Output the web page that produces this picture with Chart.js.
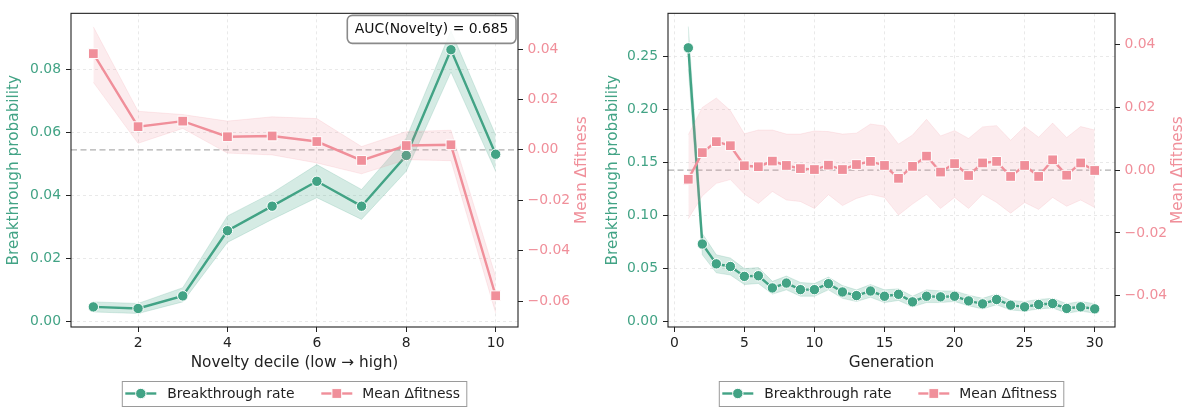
<!DOCTYPE html>
<html>
<head>
<meta charset="utf-8">
<script src="https://cdn.jsdelivr.net/npm/chart.js@4.4.0/dist/chart.umd.min.js"></script>
<style>
  html, body { margin: 0; padding: 0; background: #fff; }
  #wrap { position: relative; width: 1193px; height: 407px; overflow: hidden; }
  .panel { position: absolute; top: 0; }
  #left { left: 0; }
  #right { left: 596px; }
</style>
</head>
<body>
<div id="wrap">
  <canvas class="panel" id="left" width="596" height="407"></canvas>
  <canvas class="panel" id="right" width="597" height="407"></canvas>
</div>
<script>
// --- Painel esquerdo: decis de novidade ---
const deciles = [1, 2, 3, 4, 5, 6, 7, 8, 9, 10];
const decileRate   = [0.0047, 0.0042, 0.0082, 0.0289, 0.0367, 0.0446, 0.0367, 0.0528, 0.0864, 0.0532];
const decileRateLo = [0.0031, 0.0026, 0.0063, 0.0252, 0.0325, 0.0394, 0.0325, 0.0478, 0.0793, 0.0478];
const decileRateHi = [0.0063, 0.0058, 0.0108, 0.0336, 0.0409, 0.0499, 0.0420, 0.0583, 0.0924, 0.0593];
const decileFit    = [0.0382, 0.0092, 0.0114, 0.0052, 0.0055, 0.0033, -0.0042, 0.0017, 0.0020, -0.0579];
const decileFitLo  = [0.0268, 0.0026, 0.0085, -0.0013, -0.0020, -0.0052, -0.0095, -0.0039, -0.0043, -0.0647];
const decileFitHi  = [0.0488, 0.0153, 0.0140, 0.0114, 0.0131, 0.0124, 0.0013, 0.0072, 0.0078, -0.0503];
const decileXTicks  = [2, 4, 6, 8, 10];
const decileYTicks  = [0, 0.02, 0.04, 0.06, 0.08];
const decileY2Ticks = [-0.06, -0.04, -0.02, 0, 0.02, 0.04];

// --- Painel direito: gerações ---
const generations = [1, 2, 3, 4, 5, 6, 7, 8, 9, 10, 11, 12, 13, 14, 15, 16, 17, 18, 19, 20, 21, 22, 23, 24, 25, 26, 27, 28, 29, 30];
const genRate   = [0.258, 0.0732, 0.0545, 0.0520, 0.0427, 0.0433, 0.0318, 0.0364, 0.0302, 0.0302, 0.0358, 0.0280, 0.0246, 0.0289, 0.0240,
                   0.0258, 0.0187, 0.0240, 0.0234, 0.0240, 0.0196, 0.0168, 0.0209, 0.0156, 0.0140, 0.0162, 0.0171, 0.0125, 0.0140, 0.0121];
const genRateHi = [0.278, 0.083, 0.063, 0.060, 0.050, 0.051, 0.038, 0.043, 0.037, 0.036, 0.042, 0.034, 0.030, 0.035, 0.030,
                   0.031, 0.024, 0.030, 0.029, 0.029, 0.025, 0.022, 0.026, 0.020, 0.019, 0.021, 0.022, 0.017, 0.019, 0.017];
const genRateLo = [0.238, 0.063, 0.046, 0.044, 0.035, 0.036, 0.026, 0.030, 0.024, 0.024, 0.030, 0.022, 0.019, 0.023, 0.018,
                   0.020, 0.014, 0.018, 0.018, 0.019, 0.015, 0.012, 0.016, 0.011, 0.010, 0.012, 0.013, 0.008, 0.010, 0.008];
const genFit   = [-0.0029, 0.0056, 0.0091, 0.0078, 0.0014, 0.0011, 0.0029, 0.0015, 0.0005, 0.0002, 0.0016, 0.0002, 0.0018, 0.0028, 0.0015,
                  -0.0026, 0.0012, 0.0045, -0.0006, 0.0021, -0.0017, 0.0023, 0.0028, -0.0020, 0.0015, -0.0020, 0.0033, -0.0016, 0.0023, -0.0001];
const genFitHi = [0.0113, 0.0200, 0.0230, 0.0190, 0.0116, 0.0128, 0.0128, 0.0115, 0.0115, 0.0125, 0.0123, 0.0115, 0.0118, 0.0147, 0.0141,
                  0.0083, 0.0112, 0.0162, 0.0109, 0.0126, 0.0101, 0.0138, 0.0142, 0.0095, 0.0139, 0.0105, 0.0150, 0.0104, 0.0139, 0.0128];
const genFitLo = [-0.0155, -0.0082, -0.0042, -0.0030, -0.0076, -0.0106, -0.0068, -0.0095, -0.0100, -0.0122, -0.0078, -0.0113, -0.0090, -0.0077, -0.0087,
                  -0.0143, -0.0108, -0.0077, -0.0122, -0.0087, -0.0122, -0.0077, -0.0103, -0.0137, -0.0103, -0.0125, -0.0087, -0.0115, -0.0095, -0.0119];
const genXTicks  = [0, 5, 10, 15, 20, 25, 30];
const genYTicks  = [0, 0.05, 0.10, 0.15, 0.20, 0.25];
const genY2Ticks = [-0.04, -0.02, 0, 0.02, 0.04];

const GREEN = '#42a385';
const PINK = '#f08f9a';
const GREEN_BAND = 'rgba(66,163,133,0.22)';
const GREEN_EDGE = 'rgba(66,163,133,0.18)';
const PINK_BAND = 'rgba(240,143,154,0.17)';
const PINK_EDGE = 'rgba(240,143,154,0.16)';
const LABEL_SIZE = 15.3;

Chart.defaults.font.family = "'DejaVu Sans', sans-serif";
Chart.defaults.font.size = 13.9;
Chart.defaults.color = '#222';
Chart.defaults.animation = false;

const pts = (xs, ys) => xs.map((x, i) => ({ x, y: ys[i] }));
const fmtTick = v => (v < -1e-9 ? '\u2212' : '') + Math.abs(v).toFixed(2);

function buildDatasets(xs, rate, lo, hi, fit, fitLo, fitHi) {
    const band = { borderWidth: 1, pointRadius: 0, tension: 0 };
    return [
        { ...band, label: 'rate hi', data: pts(xs, hi), yAxisID: 'y', fill: '+1', backgroundColor: GREEN_BAND, borderColor: GREEN_EDGE, order: 4 },
        { ...band, label: 'rate lo', data: pts(xs, lo), yAxisID: 'y', fill: false, borderColor: GREEN_EDGE, order: 4 },
        { ...band, label: 'fit hi', data: pts(xs, fitHi), yAxisID: 'y2', fill: '+1', backgroundColor: PINK_BAND, borderColor: PINK_EDGE, order: 2 },
        { ...band, label: 'fit lo', data: pts(xs, fitLo), yAxisID: 'y2', fill: false, borderColor: PINK_EDGE, order: 2 },
        {
            label: 'Breakthrough rate', data: pts(xs, rate), yAxisID: 'y', fill: false, tension: 0,
            borderColor: GREEN, borderWidth: 2.4, pointStyle: 'circle', pointRadius: 5.2,
            pointBackgroundColor: GREEN, pointBorderColor: '#fff', pointBorderWidth: 1, order: 3
        },
        {
            label: 'Mean \u0394fitness', data: pts(xs, fit), yAxisID: 'y2', fill: false, tension: 0,
            borderColor: PINK, borderWidth: 2.4, pointStyle: 'rect', pointRadius: 6.9,
            pointBackgroundColor: PINK, pointBorderColor: '#fff', pointBorderWidth: 1, order: 1
        }
    ];
}

function fixedTicks(list) {
    return s => { s.ticks = list.map(v => ({ value: v })); };
}

function buildScales(p) {
    const tickGrid = { tickColor: '#222', tickLength: 5, tickWidth: 1 };
    return {
        x: {
            type: 'linear', min: p.xMin, max: p.xMax,
            afterBuildTicks: fixedTicks(p.xTicks),
            afterFit: s => { s.height = 80; },
            grid: { ...tickGrid, color: '#e4e4e4', lineWidth: 0.8 },
            border: { display: false, dash: [3, 3] },
            ticks: { padding: 3.5, color: '#222', autoSkip: false, maxRotation: 0, callback: v => String(v) },
            title: { display: true, text: p.xTitle, color: '#222', font: { size: LABEL_SIZE }, padding: { top: 0, bottom: 34.8 } }
        },
        y: {
            type: 'linear', position: 'left', min: p.yMin, max: p.yMax,
            afterBuildTicks: fixedTicks(p.yTicks),
            afterFit: s => { s.width = p.yWidth; },
            grid: { ...tickGrid, color: '#e4e4e4', lineWidth: 0.8 },
            border: { display: false, dash: [3, 3] },
            ticks: { padding: 5, color: GREEN, autoSkip: false, callback: fmtTick },
            title: { display: true, text: 'Breakthrough probability', color: GREEN, font: { size: LABEL_SIZE }, padding: { top: p.yTitlePad, bottom: 0 } }
        },
        y2: {
            type: 'linear', position: 'right', min: p.y2Min, max: p.y2Max,
            afterBuildTicks: fixedTicks(p.y2Ticks),
            afterFit: s => { s.width = p.y2Width; },
            grid: { ...tickGrid, drawOnChartArea: false },
            border: { display: false },
            ticks: { padding: 4.5, color: PINK, autoSkip: false, callback: fmtTick }
        }
    };
}

// Moldura, linha zero, título direito, caixa AUC e legenda
const decorPlugin = {
    id: 'decor',
    beforeDatasetsDraw(chart) {
        const { ctx, chartArea: a, scales } = chart;
        const y0 = scales.y2.getPixelForValue(0);
        ctx.save();
        ctx.strokeStyle = '#b0b0b0';
        ctx.lineWidth = 1.3;
        ctx.setLineDash([6, 3.5]);
        ctx.beginPath();
        ctx.moveTo(a.left, y0);
        ctx.lineTo(a.right, y0);
        ctx.stroke();
        ctx.restore();
    },
    afterDraw(chart, args, opts) {
        const { ctx, chartArea: a } = chart;
        const font = "13.9px 'DejaVu Sans', sans-serif";
        ctx.save();

        // spines
        ctx.strokeStyle = '#222';
        ctx.lineWidth = 1.1;
        ctx.strokeRect(a.left, a.top, a.right - a.left, a.bottom - a.top);

        // título do eixo direito (lido de baixo para cima)
        ctx.font = LABEL_SIZE + "px 'DejaVu Sans', sans-serif";
        ctx.fillStyle = PINK;
        ctx.textAlign = 'center';
        ctx.textBaseline = 'middle';
        ctx.translate(opts.y2TitleX, (a.top + a.bottom) / 2);
        ctx.rotate(-Math.PI / 2);
        ctx.fillText('Mean \u0394fitness', 0, 0);
        ctx.setTransform(1, 0, 0, 1, 0, 0);

        ctx.font = font;
        // caixa de anotação
        if (opts.note) {
            const bw = 168.7, bh = 28;
            const bx = a.right - 2 - bw, by = a.top + 2;
            ctx.beginPath();
            ctx.roundRect(bx, by, bw, bh, 5);
            ctx.fillStyle = 'rgba(255,255,255,0.85)';
            ctx.fill();
            ctx.lineWidth = 1.6;
            ctx.strokeStyle = '#8a8a8a';
            ctx.stroke();
            ctx.fillStyle = '#111';
            ctx.fillText(opts.note, bx + bw / 2, by + bh / 2 + 0.5);
        }

        // legenda
        const cx = (a.left + a.right) / 2;
        const lx = cx - 172.2, ly = 381.5, lw = 344.5, lh = 25;
        ctx.fillStyle = '#fff';
        ctx.fillRect(lx, ly, lw, lh);
        ctx.strokeStyle = '#9a9a9a';
        ctx.lineWidth = 1;
        ctx.strokeRect(lx, ly, lw, lh);
        const my = ly + 12;

        ctx.lineWidth = 2.4;
        ctx.strokeStyle = GREEN;
        ctx.beginPath(); ctx.moveTo(lx + 3, my); ctx.lineTo(lx + 34, my); ctx.stroke();
        ctx.beginPath(); ctx.arc(lx + 18.5, my, 5.2, 0, Math.PI * 2);
        ctx.fillStyle = GREEN; ctx.fill();
        ctx.lineWidth = 1; ctx.strokeStyle = '#fff'; ctx.stroke();

        ctx.lineWidth = 2.4;
        ctx.strokeStyle = PINK;
        ctx.beginPath(); ctx.moveTo(lx + 199, my); ctx.lineTo(lx + 230, my); ctx.stroke();
        ctx.fillStyle = PINK;
        ctx.fillRect(lx + 214.5 - 4.9, my - 4.9, 9.8, 9.8);
        ctx.lineWidth = 1; ctx.strokeStyle = '#fff';
        ctx.strokeRect(lx + 214.5 - 4.9, my - 4.9, 9.8, 9.8);

        ctx.fillStyle = '#222';
        ctx.textAlign = 'left';
        ctx.fillText('Breakthrough rate', lx + 45, my + 0.5);
        ctx.fillText('Mean \u0394fitness', lx + 240, my + 0.5);
        ctx.restore();
    }
};

function makeChart(id, datasets, scales, decor) {
    return new Chart(document.getElementById(id), {
        type: 'line',
        data: { datasets },
        options: {
            responsive: false,
            layout: { padding: { top: 11, left: 0, right: 0, bottom: 0 } },
            scales,
            plugins: { legend: { display: false }, tooltip: { enabled: false }, decor }
        },
        plugins: [decorPlugin]
    });
}

makeChart('left',
    buildDatasets(deciles, decileRate, decileRateLo, decileRateHi, decileFit, decileFitLo, decileFitHi),
    buildScales({
        xMin: 0.5, xMax: 10.5, xTicks: decileXTicks, xTitle: 'Novelty decile (low \u2192 high)',
        yMin: -0.00168, yMax: 0.09795, yTicks: decileYTicks, yWidth: 71, yTitlePad: 5.3,
        y2Min: -0.0703, y2Max: 0.05417, y2Ticks: decileY2Ticks, y2Width: 78
    }),
    { y2TitleX: 582, note: 'AUC(Novelty) = 0.685' });

makeChart('right',
    buildDatasets(generations, genRate, genRateLo, genRateHi, genFit, genFitLo, genFitHi),
    buildScales({
        xMin: -0.45, xMax: 31.45, xTicks: genXTicks, xTitle: 'Generation',
        yMin: -0.005, yMax: 0.2905, yTicks: genYTicks, yWidth: 72, yTitlePad: 7.8,
        y2Min: -0.05, y2Max: 0.05, y2Ticks: genY2Ticks, y2Width: 78
    }),
    { y2TitleX: 582, note: null });
</script>
</body>
</html>
